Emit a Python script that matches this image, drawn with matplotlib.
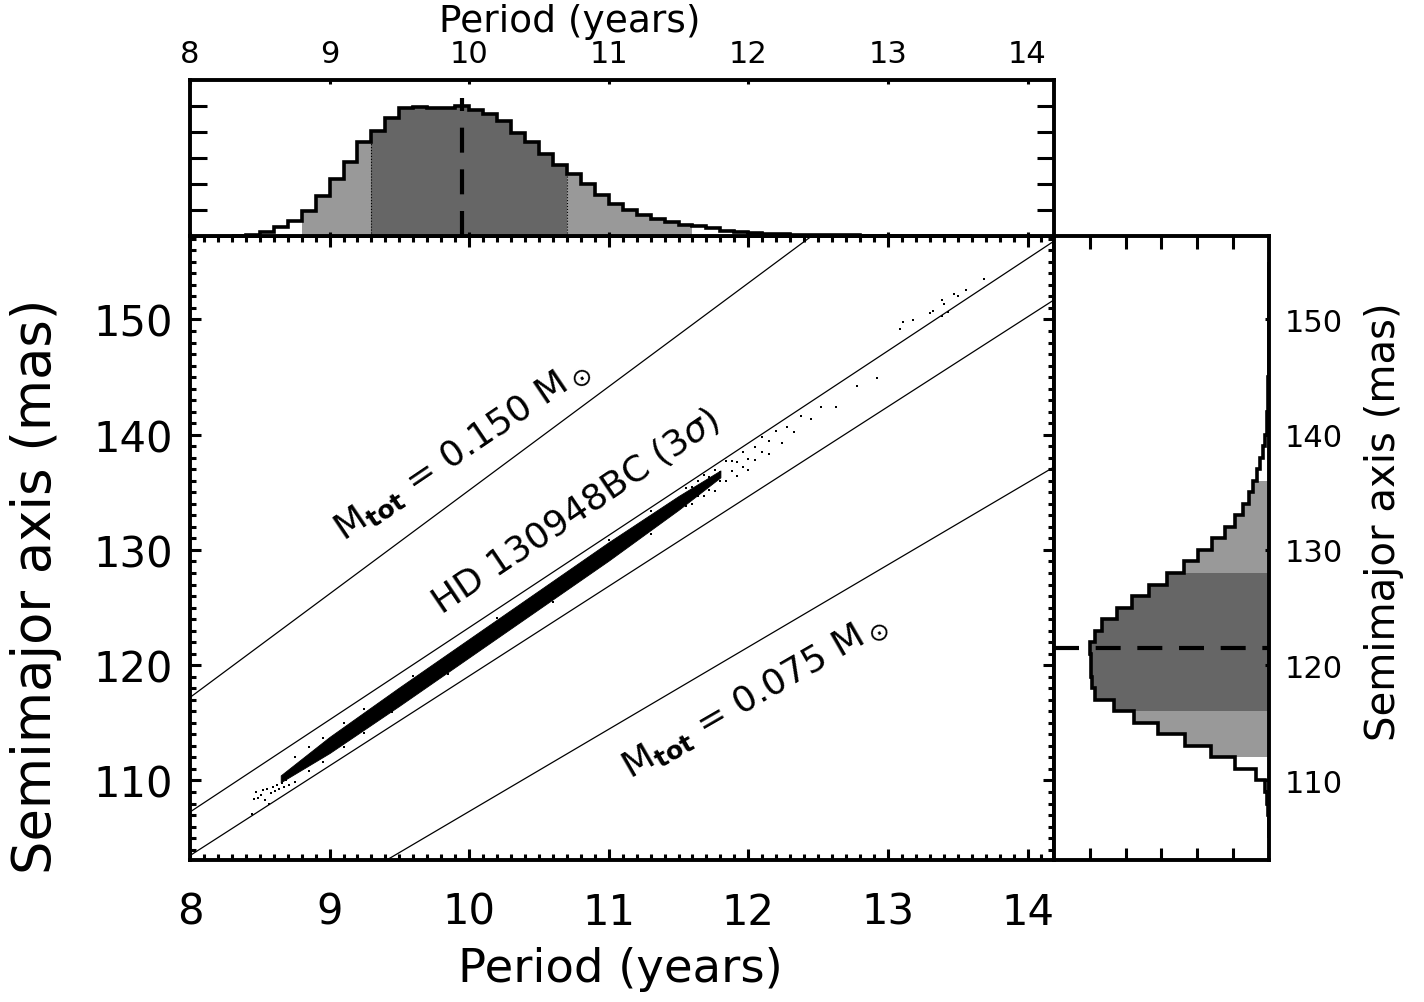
import numpy as np
import matplotlib
matplotlib.use("Agg")
import matplotlib.pyplot as plt
from matplotlib.ticker import MultipleLocator, FixedLocator


# period histogram (0.1 yr bins), arbitrary units
period_edges = np.round(np.arange(8.3, 13.61, 0.1), 2)
period_hist = [
    0.00, 0.03, 0.14, 0.36, 0.59, 0.97, 1.53, 2.19, 2.86, 3.60,
    4.04, 4.55, 4.92, 4.96, 4.94, 4.94, 5.01, 4.83, 4.71, 4.42,
    3.97, 3.63, 3.14, 2.73, 2.37, 1.99, 1.58, 1.24, 0.99, 0.81,
    0.65, 0.53, 0.42, 0.37, 0.29, 0.19, 0.14, 0.11, 0.09, 0.07,
    0.05, 0.04, 0.03, 0.03, 0.02, 0.01, 0.01, 0.01, 0.01, 0.01,
    0.01, 0.01, 0.00,
]
period_best = 9.95
period_1sig = (9.3, 10.7)
period_2sig = (8.8, 11.6)

# semimajor axis histogram (1 mas bins)
sma_edges = np.arange(105, 156, 1)
sma_hist = [
    0.00, 0.01, 0.02, 0.04, 0.10, 0.35, 0.95, 1.63, 2.35, 3.11,
    3.77, 4.33, 4.85, 4.93, 4.97, 4.96, 5.00, 4.85, 4.65, 4.25,
    3.83, 3.34, 2.85, 2.38, 1.99, 1.58, 1.23, 0.95, 0.72, 0.55,
    0.45, 0.34, 0.25, 0.16, 0.10, 0.06, 0.04, 0.03, 0.03, 0.02,
    0.01, 0.01, 0.01, 0.01, 0.01, 0.01, 0.01, 0.01, 0.01, 0.00,
]
sma_best = 121.5
sma_1sig = (116, 128)
sma_2sig = (112, 136)

# dense core of the MCMC chain (period, lower/upper semimajor axis)
core_P = [8.65, 9.00, 9.50, 10.00, 10.50, 11.00, 11.50, 11.80]
core_lo = [109.84, 112.38, 116.48, 120.68, 124.88, 129.08, 133.48, 136.30]
core_hi = [110.44, 113.78, 118.08, 122.28, 126.48, 130.68, 134.68, 136.90]

# individual chain points outside the dense core
sparse_P = [
    # short-period tail
    8.442, 8.459, 8.473, 8.490, 8.507, 8.526, 8.538, 8.555, 8.569, 8.579,
    8.593, 8.609, 8.621, 8.640, 8.657, 8.674, 8.688, 8.707,
    # fuzzy edges of the core
    8.75, 8.75, 8.85, 8.85, 8.95, 8.95, 9.10, 9.10, 9.25, 9.25,
    9.45, 9.60, 9.85, 10.20, 10.60, 11.00, 11.30, 11.30,
    # long-period trail
    11.55, 11.55, 11.55, 11.60, 11.60, 11.60, 11.64, 11.64,
    11.68, 11.68, 11.68, 11.72, 11.72, 11.76, 11.76, 11.76,
    11.80, 11.80, 11.84, 11.84, 11.88, 11.88, 11.92, 11.92,
    11.96, 11.96, 12.00, 12.00, 12.05, 12.05, 12.10, 12.10,
    12.15, 12.15, 12.20, 12.24, 12.28, 12.33, 12.38, 12.45,
    12.52, 12.63, 12.78, 12.92,
    # far end
    13.09, 13.11, 13.18, 13.30, 13.32, 13.39, 13.39, 13.40, 13.43, 13.47,
    13.50, 13.56, 13.69,
]
sparse_a = [
    107.11, 108.35, 108.99, 108.47, 108.70, 109.13, 108.33, 109.28, 107.98, 108.91,
    109.43, 109.05, 109.57, 109.22, 109.80, 109.43, 110.00, 109.63,
    109.9, 112.0, 110.8, 112.9, 111.6, 113.7, 112.9, 115.0, 114.1, 116.2,
    115.9, 119.1, 119.2, 124.1, 125.5, 130.9, 131.4, 133.4,
    135.40, 133.80, 134.80, 133.98, 135.48, 134.68, 135.98, 134.68,
    134.69, 135.69, 136.49, 136.29, 135.19, 135.10, 136.90, 136.10,
    136.80, 136.00, 137.70, 136.00, 136.81, 137.71, 136.41, 137.61,
    138.52, 137.22, 137.92, 136.92, 138.90, 137.80, 139.78, 138.48,
    138.36, 139.46, 140.34, 139.24, 140.65, 140.23, 141.61, 141.34,
    142.37, 142.41, 144.25, 144.92,
    149.18, 149.78, 149.98, 150.56, 150.74, 150.33, 151.69, 151.34, 150.68, 152.21,
    152.06, 152.58, 153.51,
]

# constant-mass and 3-sigma lines (period, semimajor axis end points)
line_m150_P, line_m150_a = [8.0, 13.0], [117.2, 162.15]
line_hi_P, line_hi_a = [8.0, 14.19], [107.26, 156.8]
line_lo_P, line_lo_a = [8.0, 14.19], [103.48, 151.7]
line_m075_P, line_m075_a = [9.41, 14.19], [103.1, 137.2]

XLIM = (8.0, 14.19)
YLIM = (103.1, 157.24)

LIGHT = "#999999"
DARK = "#666666"
SPINE_LW = 2.8
DASH = (0, (6, 4))


def shaded_stairs(ax, edges, hist, lo, hi, color, orientation):
    centers = 0.5 * (edges[:-1] + edges[1:])
    vals = np.where((centers > lo) & (centers < hi), hist, 0.0)
    ax.stairs(vals, edges, fill=True, color=color, lw=0,
              orientation=orientation)


def main():
    plt.rcParams["font.family"] = ["DejaVu Sans"]
    plt.rcParams["axes.linewidth"] = SPINE_LW

    fig = plt.figure(figsize=(14.24, 10.03), dpi=100)

    ax = fig.add_axes([0.1334, 0.1416, 0.6068, 0.6221])
    ax_top = fig.add_axes([0.1334, 0.7637, 0.6068, 0.1555])
    ax_rt = fig.add_axes([0.7402, 0.1416, 0.1509, 0.6221])

    # ---- main panel ----
    ax.fill_between(core_P, core_lo, core_hi, color="k", lw=0.6,
                    edgecolor="k")
    ax.scatter(sparse_P, sparse_a, s=2.5, marker="s", color="k", lw=0)

    for xs, ys in [(line_m150_P, line_m150_a), (line_hi_P, line_hi_a),
                   (line_lo_P, line_lo_a), (line_m075_P, line_m075_a)]:
        ax.plot(xs, ys, color="k", lw=0.9)

    ax.set_xlim(*XLIM)
    ax.set_ylim(*YLIM)
    ax.xaxis.set_major_locator(MultipleLocator(1))
    ax.xaxis.set_minor_locator(MultipleLocator(0.1))
    ax.yaxis.set_major_locator(MultipleLocator(10))
    ax.yaxis.set_minor_locator(MultipleLocator(1))
    ax.tick_params(which="both", direction="in", top=True, right=True,
                   width=2.2, labelsize=30)
    ax.tick_params(which="major", length=8)
    ax.tick_params(which="minor", length=4)
    ax.tick_params(axis="x", pad=22)
    ax.tick_params(axis="y", pad=12)

    ax.text(9.95, 138.8, r"M$_{\mathbf{tot}}$ = 0.150 M$_\odot$",
            rotation=34, ha="center", va="center", fontsize=26)
    ax.text(10.76, 133.4, r"HD 130948BC (3$\sigma$)",
            rotation=34, ha="center", va="center", fontsize=26)
    ax.text(12.05, 117.4, r"M$_{\mathbf{tot}}$ = 0.075 M$_\odot$",
            rotation=30, ha="center", va="center", fontsize=26)

    # ---- period histogram ----
    edges = np.asarray(period_edges, dtype=float)
    shaded_stairs(ax_top, edges, period_hist, *period_2sig, LIGHT, "vertical")
    shaded_stairs(ax_top, edges, period_hist, *period_1sig, DARK, "vertical")
    ax_top.stairs(period_hist, edges, color="k", lw=2.6, baseline=0)
    for edge in period_1sig:
        i = int(np.argmin(np.abs(edges - edge)))
        h = min(period_hist[i - 1], period_hist[i])
        ax_top.plot([edge, edge], [0, h], color="k", lw=0.8, ls=":")
    ax_top.plot([period_best, period_best], [0, 5.3], color="k", lw=3,
                ls=DASH)

    ax_top.set_xlim(*XLIM)
    ax_top.set_ylim(0, 6)
    ax_top.xaxis.set_major_locator(MultipleLocator(1))
    ax_top.yaxis.set_major_locator(FixedLocator([1, 2, 3, 4, 5]))
    ax_top.tick_params(axis="x", direction="in", top=True, bottom=True,
                       labeltop=True, labelbottom=False, length=3,
                       width=2.2, labelsize=22, pad=9)
    ax_top.tick_params(axis="y", direction="in", left=True, right=True,
                       labelleft=False, length=12, width=2.2)

    # ---- semimajor axis histogram ----
    edges = np.asarray(sma_edges, dtype=float)
    shaded_stairs(ax_rt, edges, sma_hist, *sma_2sig, LIGHT, "horizontal")
    shaded_stairs(ax_rt, edges, sma_hist, *sma_1sig, DARK, "horizontal")
    ax_rt.stairs(sma_hist, edges, color="k", lw=2.6, baseline=0,
                 orientation="horizontal")
    ax_rt.plot([6, 0], [sma_best, sma_best], color="k", lw=3, ls=DASH)

    ax_rt.set_xlim(6, 0)
    ax_rt.set_ylim(*YLIM)
    ax_rt.xaxis.set_major_locator(FixedLocator([1, 2, 3, 4, 5]))
    ax_rt.yaxis.set_major_locator(MultipleLocator(10))
    ax_rt.tick_params(axis="x", direction="in", top=True, bottom=True,
                      labelbottom=False, length=9, width=2.2)
    ax_rt.tick_params(axis="y", direction="in", left=False, right=True,
                      labelleft=False, labelright=True, length=3,
                      width=2.2, labelsize=22, pad=11)

    # ---- axis titles ----
    fig.text(0.4355, 0.033, "Period (years)", ha="center", va="center",
             fontsize=33.5)
    fig.text(0.4000, 0.978, "Period (years)", ha="center", va="center",
             fontsize=27)
    fig.text(0.025, 0.415, "Semimajor axis (mas)", ha="center",
             va="center", rotation=90, fontsize=38)
    fig.text(0.972, 0.48, "Semimajor axis (mas)", ha="center",
             va="center", rotation=90, fontsize=29)

    fig.savefig("out.png", dpi=100)
    plt.close(fig)


if __name__ == "__main__":
    main()
